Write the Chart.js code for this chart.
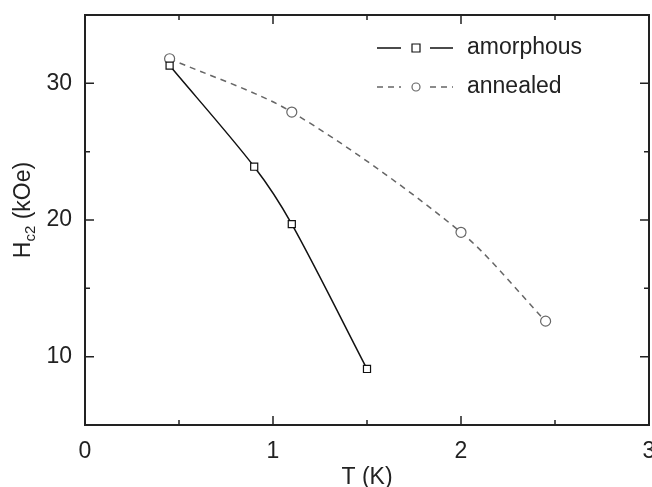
<!DOCTYPE html>
<html>
<head>
<meta charset="utf-8">
<script src="https://cdn.jsdelivr.net/npm/chart.js@4.4.1/dist/chart.umd.min.js"></script>
<style>
  html, body { margin: 0; padding: 0; background: #fff; }
  #wrap { width: 652px; height: 487px; }
</style>
</head>
<body>
<div id="wrap"><canvas id="chart" width="652" height="487"></canvas></div>
<script>
const amorphousT = [0.45, 0.90, 1.10, 1.50];
const amorphousH = [31.3, 23.9, 19.7, 9.1];
const annealedT = [0.45, 1.10, 2.00, 2.45];
const annealedH = [31.8, 27.9, 19.1, 12.6];

const xTicks = [0, 0.5, 1, 1.5, 2, 2.5, 3];
const yTicks = [5, 10, 15, 20, 25, 30, 35];
const xLabels = [0, 1, 2, 3];
const yLabels = [10, 20, 30];

const FONT = '"Liberation Sans", Arial, sans-serif';
const INK = '#222';

function toPoints(xs, ys) {
    return xs.map((x, i) => ({ x: x, y: ys[i] }));
}

// frame, inward ticks, x labels, y title with subscript, legend inside the plot
const framePlugin = {
    id: 'frame',
    afterDraw(chart) {
        const ctx = chart.ctx;
        const a = chart.chartArea;
        const xs = chart.scales.x;
        const ys = chart.scales.y;
        ctx.save();
        ctx.strokeStyle = INK;
        ctx.lineWidth = 2;
        ctx.strokeRect(a.left, a.top, a.right - a.left, a.bottom - a.top);

        ctx.lineWidth = 1.5;
        xTicks.forEach(v => {
            const px = xs.getPixelForValue(v);
            const len = xLabels.includes(v) ? 9 : 5;
            ctx.beginPath();
            ctx.moveTo(px, a.bottom); ctx.lineTo(px, a.bottom - len);
            ctx.moveTo(px, a.top); ctx.lineTo(px, a.top + len);
            ctx.stroke();
        });
        yTicks.forEach(v => {
            const py = ys.getPixelForValue(v);
            const len = yLabels.includes(v) ? 9 : 5;
            ctx.beginPath();
            ctx.moveTo(a.left, py); ctx.lineTo(a.left + len, py);
            ctx.moveTo(a.right, py); ctx.lineTo(a.right - len, py);
            ctx.stroke();
        });

        // x tick labels (drawn here so the last one may overhang the edge)
        ctx.fillStyle = INK;
        ctx.font = '23px ' + FONT;
        ctx.textAlign = 'center';
        ctx.textBaseline = 'top';
        xLabels.forEach(v => {
            ctx.fillText(String(v), xs.getPixelForValue(v), a.bottom + 15);
        });

        // y axis title: H_c2 (kOe)
        ctx.textAlign = 'left';
        ctx.translate(30, (a.top + a.bottom) / 2 - 10);
        ctx.rotate(-Math.PI / 2);
        ctx.textBaseline = 'alphabetic';
        ctx.font = '23px ' + FONT;
        const wH = ctx.measureText('H').width;
        ctx.font = '15px ' + FONT;
        const wSub = ctx.measureText('c2').width;
        ctx.font = '23px ' + FONT;
        const wRest = ctx.measureText(' (kOe)').width;
        let x0 = -(wH + wSub + wRest) / 2;
        ctx.fillText('H', x0, 0);
        ctx.font = '15px ' + FONT;
        ctx.fillText('c2', x0 + wH, 5);
        ctx.font = '23px ' + FONT;
        ctx.fillText(' (kOe)', x0 + wH + wSub, 0);
        ctx.restore();

        // legend
        ctx.save();
        ctx.font = '23px ' + FONT;
        ctx.textBaseline = 'middle';
        chart.data.datasets.forEach((ds, i) => {
            const y = 48 + i * 39;
            ctx.strokeStyle = ds.borderColor;
            ctx.lineWidth = 1.5;
            ctx.setLineDash(ds.borderDash || []);
            ctx.beginPath();
            ctx.moveTo(377, y); ctx.lineTo(401, y);
            ctx.moveTo(430, y); ctx.lineTo(453, y);
            ctx.stroke();
            ctx.setLineDash([]);
            ctx.strokeStyle = ds.pointBorderColor;
            ctx.lineWidth = 1.2;
            ctx.fillStyle = '#fff';
            ctx.beginPath();
            if (ds.pointStyle === 'rect') {
                ctx.rect(412, y - 4, 8, 8);
            } else {
                ctx.arc(416, y, 4, 0, Math.PI * 2);
            }
            ctx.fill();
            ctx.stroke();
            ctx.fillStyle = INK;
            ctx.fillText(ds.label, 467, y);
        });
        ctx.restore();
    }
};

new Chart(document.getElementById('chart'), {
    type: 'line',
    data: {
        datasets: [
            {
                label: 'amorphous',
                data: toPoints(amorphousT, amorphousH),
                borderColor: '#111',
                borderWidth: 1.5,
                tension: 0.3,
                pointStyle: 'rect',
                pointRadius: 5,
                pointBackgroundColor: '#fff',
                pointBorderColor: '#111',
                pointBorderWidth: 1.2
            },
            {
                label: 'annealed',
                data: toPoints(annealedT, annealedH),
                borderColor: '#666',
                borderWidth: 1.5,
                borderDash: [6, 5],
                tension: 0.3,
                pointStyle: 'circle',
                pointRadius: 5,
                pointBackgroundColor: '#fff',
                pointBorderColor: '#666',
                pointBorderWidth: 1.2
            }
        ]
    },
    options: {
        responsive: false,
        animation: false,
        layout: { autoPadding: false, padding: { top: 15, right: 3, left: 0, bottom: 0 } },
        plugins: {
            legend: { display: false },
            tooltip: { enabled: false }
        },
        scales: {
            x: {
                type: 'linear',
                min: 0,
                max: 3,
                grid: { display: false },
                border: { display: false },
                ticks: { display: false },
                title: {
                    display: true,
                    text: 'T (K)',
                    color: INK,
                    font: { family: FONT, size: 23 },
                    padding: { top: 0, bottom: -4 }
                },
                afterFit: s => { s.height = 62; }
            },
            y: {
                type: 'linear',
                min: 5,
                max: 35,
                grid: { display: false },
                border: { display: false },
                afterBuildTicks: s => { s.ticks = yLabels.map(v => ({ value: v })); },
                ticks: {
                    color: INK,
                    font: { family: FONT, size: 23 },
                    padding: 5
                },
                afterFit: s => { s.width = 85; s.paddingTop = 0; s.paddingBottom = 0; }
            }
        }
    },
    plugins: [framePlugin]
});
</script>
</body>
</html>
